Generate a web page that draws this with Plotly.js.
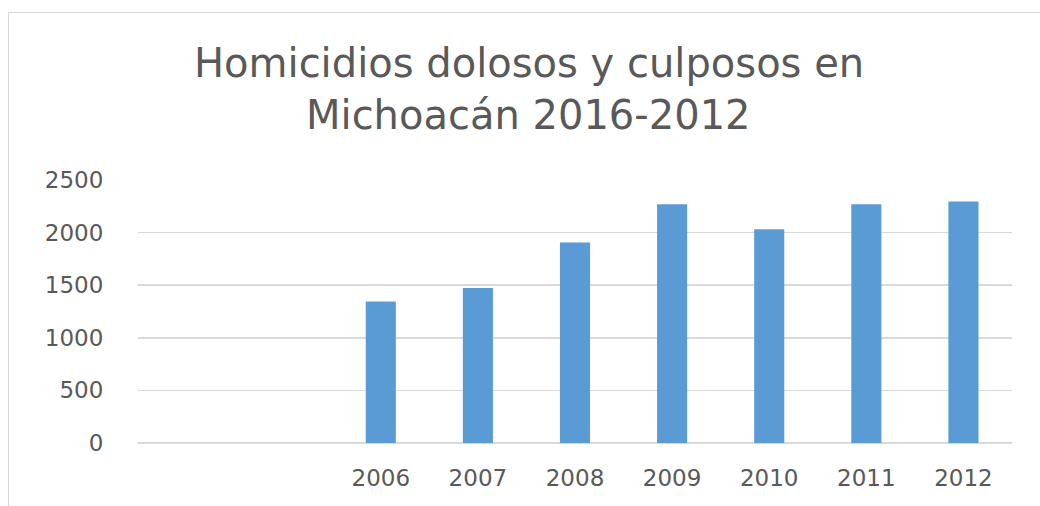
<!DOCTYPE html>
<html>
<head>
<meta charset="utf-8">
<script src="https://cdn.plot.ly/plotly-3.0.1.min.js"></script>
<style>
html,body{margin:0;padding:0;background:#fff;}
#wrap{position:relative;width:1040px;height:506px;}
#chart{width:1040px;height:506px;}
#frame{position:absolute;left:8px;top:12px;width:1100px;height:600px;border-top:1.5px solid #d9d9d9;border-left:1.5px solid #d9d9d9;pointer-events:none;}
</style>
</head>
<body>
<div id="wrap"><div id="chart"></div><div id="frame"></div></div>
<script>
const years = [2006, 2007, 2008, 2009, 2010, 2011, 2012];
const tickLabels = ['2006', '2007', '2008', '2009', '2010', '2011', '2012'];
const homicidios = [1345, 1474, 1906, 2270, 2033, 2270, 2295];
const titleLines = ['Homicidios dolosos y culposos en', 'Michoacán 2016-2012'];

const trace = {
  type: 'bar',
  x: years,
  y: homicidios,
  width: 0.31,
  marker: {color: '#5b9bd5'},
  hoverinfo: 'x+y'
};

const titleFont = {family: '"DejaVu Sans", sans-serif', size: 40, color: '#595959'};
const tickFont = {family: '"DejaVu Sans", sans-serif', size: 23, color: '#595959'};

const layout = {
  width: 1040,
  height: 506,
  margin: {l: 138, r: 28, t: 180, b: 63, pad: 0},
  paper_bgcolor: '#ffffff',
  plot_bgcolor: '#ffffff',
  showlegend: false,
  annotations: [
    {text: titleLines[0], xref: 'paper', yref: 'paper', x: 0.447, y: 1.445,
     xanchor: 'center', yanchor: 'middle', showarrow: false, font: titleFont},
    {text: titleLines[1], xref: 'paper', yref: 'paper', x: 0.447, y: 1.247,
     xanchor: 'center', yanchor: 'middle', showarrow: false, font: titleFont}
  ],
  xaxis: {
    range: [2003.5, 2012.5],
    tickvals: years,
    ticktext: tickLabels,
    showgrid: false,
    zeroline: false,
    showline: false,
    ticks: 'outside',
    ticklen: 14,
    tickcolor: 'rgba(0,0,0,0)',
    tickfont: tickFont,
    fixedrange: true
  },
  yaxis: {
    range: [0, 2500],
    tickvals: [0, 500, 1000, 1500, 2000, 2500],
    showgrid: true,
    gridcolor: '#d9d9d9',
    gridwidth: 1.5,
    zeroline: true,
    zerolinecolor: '#d9d9d9',
    zerolinewidth: 1.5,
    showline: false,
    ticks: 'outside',
    ticklen: 29,
    tickcolor: 'rgba(0,0,0,0)',
    tickfont: tickFont,
    fixedrange: true
  }
};

Plotly.newPlot('chart', [trace], layout, {displayModeBar: false, staticPlot: true});
</script>
</body>
</html>
